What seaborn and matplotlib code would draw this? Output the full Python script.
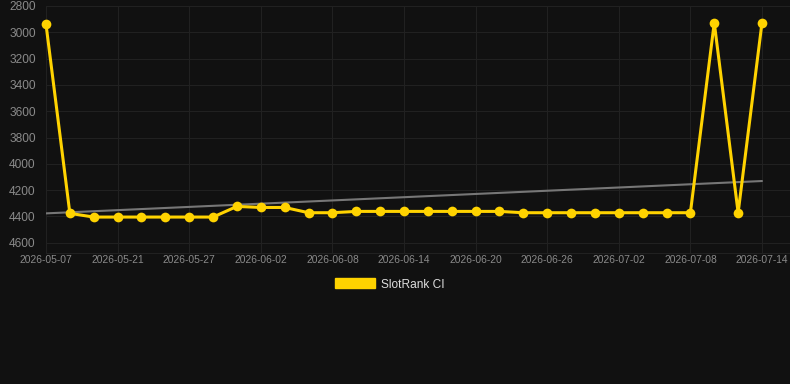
import matplotlib
matplotlib.use("Agg")
import matplotlib.pyplot as plt
from matplotlib.patches import Patch
import seaborn as sns
import pandas as pd

# ---- data ----
dates = ["2026-05-07", "2026-05-17", "2026-05-19", "2026-05-21", "2026-05-23",
         "2026-05-25", "2026-05-27", "2026-05-29", "2026-05-31", "2026-06-02",
         "2026-06-04", "2026-06-06", "2026-06-08", "2026-06-10", "2026-06-12",
         "2026-06-14", "2026-06-16", "2026-06-18", "2026-06-20", "2026-06-22",
         "2026-06-24", "2026-06-26", "2026-06-28", "2026-06-30", "2026-07-02",
         "2026-07-04", "2026-07-06", "2026-07-08", "2026-07-10", "2026-07-12",
         "2026-07-14"]
rank = [2939, 4377, 4405, 4405, 4405, 4405, 4405, 4405, 4324, 4332,
        4332, 4372, 4372, 4362, 4362, 4362, 4362, 4362, 4362, 4362,
        4372, 4372, 4372, 4372, 4372, 4372, 4372, 4372, 2927, 4372,
        2927]
trend_dates = ["2026-05-07", "2026-07-14"]
trend_values = [4377, 4131]
y_ticks = [2800, 3000, 3200, 3400, 3600, 3800, 4000, 4200, 4400, 4600]
tick_every = 3
series_name = "SlotRank CI"

# ---- styling ----
BG = "#111111"
GRID = "#212121"
GOLD = "#FFD300"
TREND = "#777777"
TXT = "#8a8a8a"

sns.set_theme(style="dark")
plt.rcParams["font.family"] = ["Liberation Sans", "DejaVu Sans"]

W, H = 790, 384
fig = plt.figure(figsize=(W / 100, H / 100), dpi=100, facecolor=BG)
left, right, top, bottom = 46, 790, 6, 252.7
ax = fig.add_axes([left / W, 1 - bottom / H, (right - left) / W, (bottom - top) / H])
ax.set_facecolor(BG)

pos = {d: i for i, d in enumerate(dates)}
df = pd.DataFrame({"x": [pos[d] for d in dates], "rank": rank})
tdf = pd.DataFrame({"x": [pos[d] for d in trend_dates], "rank": trend_values})

sns.lineplot(data=tdf, x="x", y="rank", ax=ax, color=TREND, linewidth=1.5, zorder=2)
sns.lineplot(data=df, x="x", y="rank", ax=ax, color=GOLD, linewidth=2.2,
             marker="o", markersize=7, markeredgewidth=0, markerfacecolor=GOLD,
             zorder=3, clip_on=False)
for ln in ax.lines[-1:]:
    ln.set_solid_joinstyle("miter")

# x scale: index 0 at left edge, index 30 at pixel 762
px_per = (762 - 46) / (len(dates) - 1)
ax.set_xlim(0, (right - left) / px_per)
# y scale: 2800 at top (y=6), 4600 at y=242.7
unit_px = (242.7 - 6) / 1800
ax.set_ylim(2800 + (bottom - top) / unit_px, 2800)

xt = list(range(0, len(dates), tick_every))
ax.set_xticks(xt)
ax.set_xticklabels([dates[i] for i in xt])
ax.set_yticks(y_ticks)
ax.set_yticklabels([str(v) for v in y_ticks])

ax.grid(True, color=GRID, linewidth=0.8)
ax.set_axisbelow(True)
ax.tick_params(axis="x", length=0, pad=1.5, labelsize=7.4, colors=TXT)
ax.tick_params(axis="y", length=6, width=0.8, color=GRID, pad=1.5, labelsize=8.6, labelcolor=TXT)
ax.set_xlabel("")
ax.set_ylabel("")
for s in ["top", "right", "left"]:
    ax.spines[s].set_visible(False)
ax.spines["bottom"].set_visible(True)
ax.spines["bottom"].set_color(GRID)
ax.spines["bottom"].set_linewidth(0.8)

leg = fig.legend(handles=[Patch(facecolor=GOLD, edgecolor=GOLD)], labels=[series_name],
                 loc="center", bbox_to_anchor=(390 / W, 1 - 284.5 / H), frameon=False,
                 fontsize=8.6, handlelength=3.3, handleheight=0.9, handletextpad=0.5)
for t in leg.get_texts():
    t.set_color("#dddddd")

fig.savefig("out.png", dpi=100, facecolor=BG)
